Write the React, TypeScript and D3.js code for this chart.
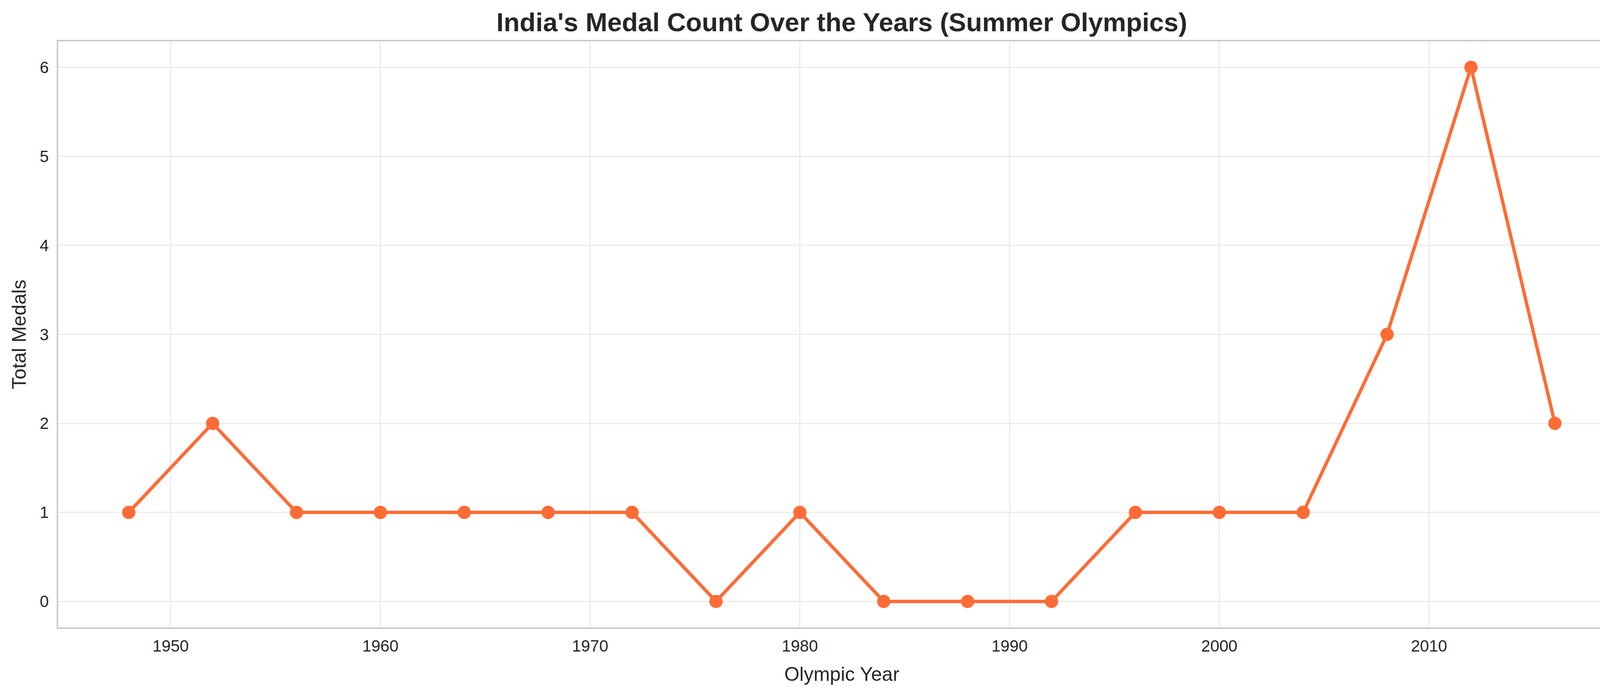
import { useEffect, useRef } from 'react';
import * as d3 from 'd3';

const years = [1948, 1952, 1956, 1960, 1964, 1968, 1972, 1976, 1980, 1984, 1988, 1992, 1996, 2000, 2004, 2008, 2012, 2016];
const medals = [1, 2, 1, 1, 1, 1, 1, 0, 1, 0, 0, 0, 1, 1, 1, 3, 6, 2];
const xTicks = [1950, 1960, 1970, 1980, 1990, 2000, 2010];
const yTicks = [0, 1, 2, 3, 4, 5, 6];

export default function App() {
  const svgRef = useRef(null);

  useEffect(() => {
    const width = 4171;
    const height = 1769;
    const m = { left: 147, right: 8, top: 104, bottom: 161 };
    const svg = d3.select(svgRef.current);
    svg.selectAll('*').remove();
    svg.attr('width', width).attr('height', height).style('display', 'block');
    svg.append('rect').attr('width', width).attr('height', height).attr('fill', '#fff');

    const x = d3.scaleLinear().domain([1944.6, 2019.4]).range([m.left, width - m.right]);
    const y = d3.scaleLinear().domain([-0.3, 6.3]).range([height - m.bottom, m.top]);
    const font = 'Liberation Sans, Arial, sans-serif';

    const grid = svg.append('g').attr('stroke', '#ebebeb').attr('stroke-width', 3);
    xTicks.forEach(t => grid.append('line').attr('x1', x(t)).attr('x2', x(t)).attr('y1', m.top).attr('y2', height - m.bottom));
    yTicks.forEach(t => grid.append('line').attr('y1', y(t)).attr('y2', y(t)).attr('x1', m.left).attr('x2', width - m.right));

    svg.append('rect')
      .attr('x', m.left).attr('y', m.top)
      .attr('width', width - m.left - m.right).attr('height', height - m.top - m.bottom)
      .attr('fill', 'none').attr('stroke', '#cccccc').attr('stroke-width', 4);

    svg.append('g').selectAll('text').data(xTicks).enter().append('text')
      .attr('x', d => x(d)).attr('y', 1668)
      .attr('text-anchor', 'middle').attr('font-family', font).attr('font-size', 41.7).attr('fill', '#262626')
      .text(d => d);
    svg.append('g').selectAll('text').data(yTicks).enter().append('text')
      .attr('x', m.left - 22).attr('y', d => y(d)).attr('dy', '0.35em')
      .attr('text-anchor', 'end').attr('font-family', font).attr('font-size', 41.7).attr('fill', '#262626')
      .text(d => d);

    const line = d3.line<number>().x((_, i) => x(years[i])).y(d => y(d));
    svg.append('path').datum(medals).attr('d', line)
      .attr('fill', 'none').attr('stroke', '#FF6B35').attr('stroke-width', 8.5).attr('stroke-linejoin', 'round');
    svg.append('g').selectAll('circle').data(medals).enter().append('circle')
      .attr('cx', (_, i) => x(years[i])).attr('cy', d => y(d)).attr('r', 17).attr('fill', '#FF6B35');

    svg.append('text').attr('x', (m.left + width - m.right) / 2).attr('y', 80)
      .attr('text-anchor', 'middle').attr('font-family', font).attr('font-size', 67).attr('font-weight', 'bold').attr('fill', '#262626')
      .text("India's Medal Count Over the Years (Summer Olympics)");
    svg.append('text').attr('x', (m.left + width - m.right) / 2).attr('y', 1743)
      .attr('text-anchor', 'middle').attr('font-family', font).attr('font-size', 50).attr('fill', '#262626')
      .text('Olympic Year');
    svg.append('text').attr('transform', `translate(66, ${(m.top + height - m.bottom) / 2}) rotate(-90)`)
      .attr('text-anchor', 'middle').attr('font-family', font).attr('font-size', 50).attr('fill', '#262626')
      .text('Total Medals');
  }, []);

  return <svg ref={svgRef} style={{ position: 'absolute', left: 0, top: 0 }} />;
}
